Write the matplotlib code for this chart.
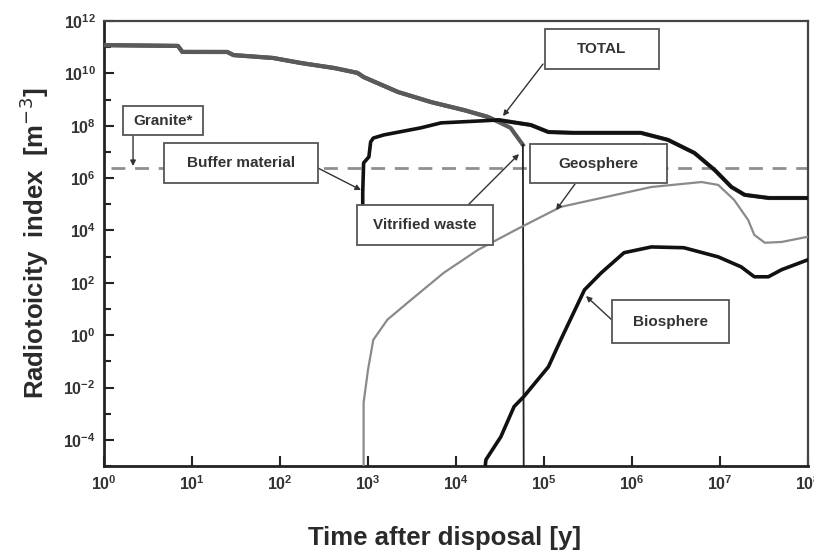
import numpy as np
import matplotlib.pyplot as plt
from matplotlib.patches import Rectangle
from matplotlib.ticker import FixedLocator, LogFormatterMathtext, NullFormatter

plt.rcParams['font.family'] = ['Liberation Sans', 'DejaVu Sans']

# curves: log10(time [y]), log10(radiotoxicity index [m^-3])
vitrified_lt = [0.0, 0.84, 0.89, 1.40, 1.47, 1.92, 2.23, 2.61, 2.88, 2.95, 3.34, 3.71, 4.09, 4.36, 4.48, 4.62, 4.76, 4.77]
vitrified_lr = [11.08, 11.05, 10.82, 10.82, 10.70, 10.59, 10.40, 10.21, 10.02, 9.86, 9.29, 8.91, 8.60, 8.34, 8.15, 7.92, 7.27, -6.0]

buffer_lt = [2.94, 2.94, 2.95, 3.01, 3.03, 3.06, 3.18, 3.60, 3.83, 4.25, 4.48, 4.85, 5.05, 5.31, 5.65, 6.10, 6.41, 6.71, 6.94, 7.13, 7.28, 7.55, 8.0]
buffer_lr = [4.8, 5.44, 6.58, 6.81, 7.38, 7.53, 7.65, 7.92, 8.11, 8.18, 8.22, 8.03, 7.76, 7.73, 7.73, 7.73, 7.46, 6.96, 6.31, 5.66, 5.36, 5.24, 5.24]

geo_lt = [2.95, 2.95, 2.95, 3.0, 3.06, 3.22, 3.45, 3.86, 4.25, 4.70, 5.19, 5.65, 6.22, 6.79, 6.98, 7.16, 7.32, 7.39, 7.51, 7.70, 8.0]
geo_lr = [-6.0, -4.76, -2.58, -1.32, -0.18, 0.59, 1.24, 2.38, 3.26, 4.06, 4.90, 5.24, 5.66, 5.85, 5.74, 5.17, 4.40, 3.83, 3.53, 3.56, 3.76]

bio_lt = [4.30, 4.34, 4.51, 4.66, 4.77, 5.05, 5.19, 5.46, 5.65, 5.91, 6.22, 6.59, 6.98, 7.24, 7.39, 7.55, 7.70, 8.0]
bio_lr = [-6.0, -4.76, -3.88, -2.73, -2.35, -1.21, -0.18, 1.73, 2.38, 3.15, 3.37, 3.34, 2.99, 2.61, 2.23, 2.23, 2.50, 2.88]

granite_level = 2.5e6

y_ticks = [1e-4, 1e-2, 1e0, 1e2, 1e4, 1e6, 1e8, 1e10, 1e12]
x_ticks = [1e0, 1e1, 1e2, 1e3, 1e4, 1e5, 1e6, 1e7, 1e8]


def to_lin(lt, lr):
    return 10 ** np.array(lt), 10 ** np.array(lr)


def total_curve():
    # envelope of the vitrified waste and buffer lines
    grid = np.linspace(0, 8, 800)
    v = np.interp(grid, vitrified_lt[:-1], vitrified_lr[:-1], right=-10)
    b = np.interp(grid, buffer_lt, buffer_lr, left=-10)
    return 10 ** grid, 10 ** np.maximum(v, b)


fig = plt.figure(figsize=(8.14, 5.54), dpi=100)
ax = fig.add_axes([0.1278, 0.1588, 0.8648, 0.8032])

t, r = total_curve()
ax.plot(t, r, color='#555555', lw=3.0, zorder=2)

vx, vy = to_lin(vitrified_lt, vitrified_lr)
ax.plot(vx[:-1], vy[:-1], color='#5a5a5a', lw=3.0, zorder=3)
ax.plot(vx[-2:], vy[-2:], color='#222222', lw=1.3, zorder=3)

bx, by = to_lin(buffer_lt, buffer_lr)
ax.plot(bx, by, color='#111111', lw=2.6, zorder=4)

gx, gy = to_lin(geo_lt, geo_lr)
ax.plot(gx, gy, color='#8a8a8a', lw=1.6, zorder=3)

ox, oy = to_lin(bio_lt, bio_lr)
ax.plot(ox, oy, color='#111111', lw=2.6, zorder=4)

ax.plot([1.2, 1e8], [granite_level, granite_level], color='#8f8f8f', lw=2.0,
        dashes=(5, 3.5), zorder=1)

ax.set_xscale('log')
ax.set_yscale('log')
ax.set_xlim(1, 1e8)
ax.set_ylim(1e-5, 1e12)

ax.xaxis.set_major_locator(FixedLocator(x_ticks))
ax.xaxis.set_major_formatter(LogFormatterMathtext())
ax.xaxis.set_minor_locator(FixedLocator([]))
ax.yaxis.set_major_locator(FixedLocator(y_ticks))
ax.yaxis.set_major_formatter(LogFormatterMathtext())
ax.yaxis.set_minor_locator(FixedLocator([10.0 ** k for k in range(-5, 12, 2)]))
ax.yaxis.set_minor_formatter(NullFormatter())

ax.tick_params(which='both', direction='in', top=False, right=False, width=1.5,
               colors='#222222', labelsize=11.5, labelcolor='#333333')
ax.tick_params(which='major', length=7, pad=6)
ax.tick_params(which='minor', length=5)
for lab in ax.get_xticklabels() + ax.get_yticklabels():
    lab.set_fontweight('bold')

for side in ['left', 'bottom']:
    ax.spines[side].set_linewidth(2.0)
    ax.spines[side].set_color('#222222')
for side in ['top', 'right']:
    ax.spines[side].set_linewidth(1.6)
    ax.spines[side].set_color('#444444')

ax.set_xlabel('Time after disposal [y]', fontsize=18.5, fontweight='bold',
              color='#2a2a2a', labelpad=24)
ax.xaxis.label.set_x(0.484)
ax.set_ylabel('Radiotoicity  index  [m$^{-3}$]', fontsize=18.5, fontweight='bold',
              color='#2a2a2a', labelpad=9)


def label_box(x0, y0, x1, y1, text):
    # box given in picture pixels, converted to axes fraction
    fx0 = (x0 - 104) / 704.0
    fx1 = (x1 - 104) / 704.0
    fy0 = (466 - y1) / 445.0
    fy1 = (466 - y0) / 445.0
    ax.add_patch(Rectangle((fx0, fy0), fx1 - fx0, fy1 - fy0, transform=ax.transAxes,
                           facecolor='white', edgecolor='#555555', lw=1.3, zorder=6))
    ax.text((fx0 + fx1) / 2, (fy0 + fy1) / 2, text, transform=ax.transAxes,
            ha='center', va='center', fontsize=11, fontweight='bold', color='#333333', zorder=7)


def pointer(x0, y0, x1, y1):
    ax.annotate('', xy=((x1 - 104) / 704.0, (466 - y1) / 445.0),
                xytext=((x0 - 104) / 704.0, (466 - y0) / 445.0),
                xycoords='axes fraction', textcoords='axes fraction',
                arrowprops=dict(arrowstyle='-|>', color='#333333', lw=1.0,
                                mutation_scale=8, shrinkA=0, shrinkB=0), zorder=5)


pointer(133, 135, 133, 166)
label_box(123, 106, 203, 135, 'Granite*')

pointer(318, 168, 361, 190)
label_box(164, 143, 318, 183, 'Buffer material')

pointer(543, 64, 503, 116)
label_box(545, 29, 659, 69, 'TOTAL')

pointer(575, 184, 556, 210)
label_box(530, 144, 667, 183, 'Geosphere')

pointer(468, 205, 519, 154)
label_box(357, 205, 493, 245, 'Vitrified waste')

pointer(612, 320, 586, 296)
label_box(612, 300, 729, 343, 'Biosphere')

fig.savefig('out.png', dpi=100)
